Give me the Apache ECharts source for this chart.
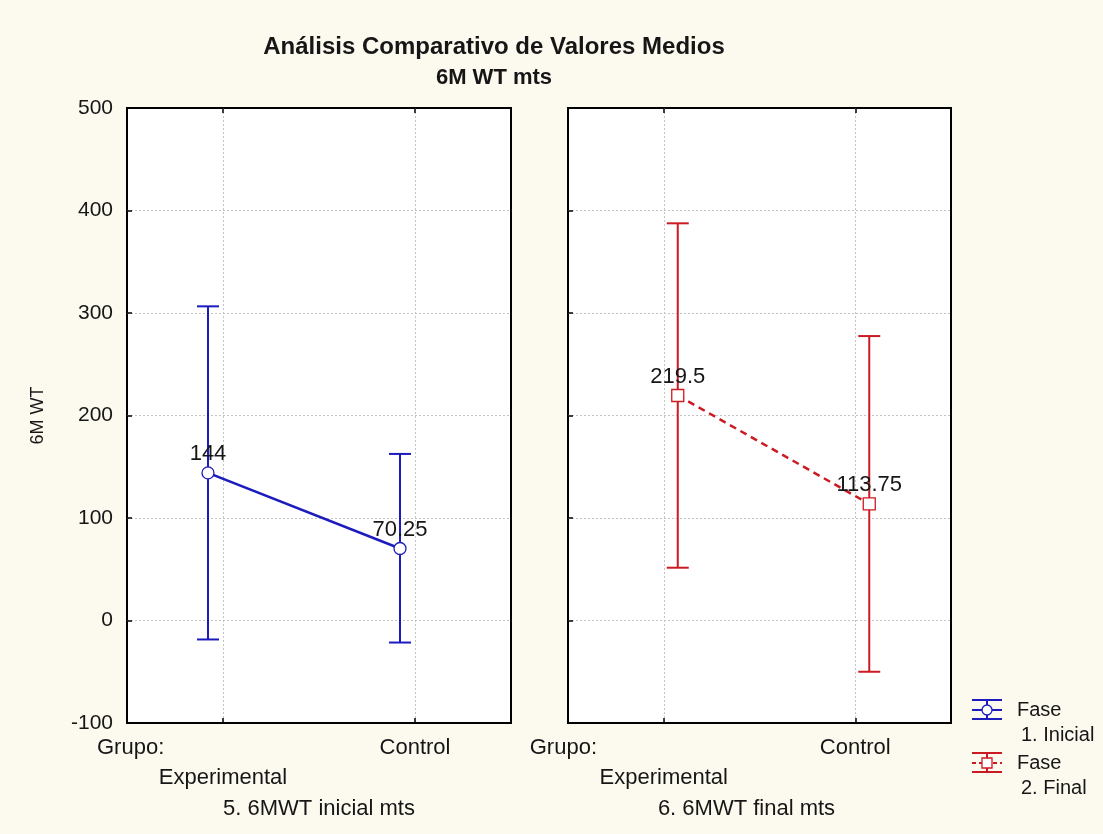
<!DOCTYPE html>
<html>
<head>
<meta charset="utf-8">
<script src="https://cdn.jsdelivr.net/npm/echarts@6/dist/echarts.min.js"></script>
<style>
  html, body { margin: 0; padding: 0; background: #fcf9ef; }
  #chart { width: 1103px; height: 834px; }
</style>
</head>
<body>
<div id="chart"></div>
<script>
// Groups on the horizontal axis of each panel
const groups = ['Experimental', 'Control'];

// Phase 1 (initial test): group means and confidence limits, metres
const inicialMean = [144, 70.25];
const inicialLow = [-18.5, -21.5];
const inicialHigh = [306.5, 162.5];

// Phase 2 (final test): group means and confidence limits, metres
const finalMean = [219.5, 113.75];
const finalLow = [51.5, -50];
const finalHigh = [387.5, 277.5];

// Texts
const chartTitle = 'Análisis Comparativo de Valores Medios';
const chartSubtitle = '6M WT mts';
const yAxisTitle = '6M WT';
const panelTitles = ['5. 6MWT inicial mts', '6. 6MWT final mts'];
const groupPrefix = 'Grupo:';
const legendItems = [['Fase', '1. Inicial'], ['Fase', '2. Final']];

// Y scale
const yMin = -100, yMax = 500, yStep = 100;

const FONT = '"Liberation Sans", Arial, sans-serif';
const TEXT = '#161616';
const BLUE = '#1c1cbe';
const RED = '#cc1a22';

// One custom series per phase: whisker, mean marker, value label and the
// segment joining consecutive group means. dx dodges the two phases sideways.
function phaseSeries(axisIdx, means, lows, highs, look) {
  return {
    type: 'custom',
    xAxisIndex: axisIdx * 2,
    yAxisIndex: axisIdx,
    clip: false,
    data: groups.map((g, i) => [i, means[i], lows[i], highs[i]]),
    encode: { x: 0, y: [1, 2, 3] },
    renderItem(params, api) {
      const i = params.dataIndex;
      const p = api.coord([i, api.value(1)]);
      const lo = api.coord([i, api.value(2)]);
      const hi = api.coord([i, api.value(3)]);
      const x = p[0] + look.dx;
      const cap = 11;
      const bar = { stroke: look.color, lineWidth: 2 };
      const children = [
        { type: 'line', z2: 1, shape: { x1: x, y1: hi[1], x2: x, y2: lo[1] }, style: bar },
        { type: 'line', z2: 1, shape: { x1: x - cap, y1: hi[1], x2: x + cap, y2: hi[1] }, style: bar },
        { type: 'line', z2: 1, shape: { x1: x - cap, y1: lo[1], x2: x + cap, y2: lo[1] }, style: bar }
      ];
      if (i < means.length - 1) {
        const q = api.coord([i + 1, means[i + 1]]);
        children.push({
          type: 'line', z2: 2,
          shape: { x1: x, y1: p[1], x2: q[0] + look.dx, y2: q[1] },
          style: { stroke: look.color, lineWidth: 2.5, lineDash: look.dash }
        });
      }
      const mk = { fill: '#ffffff', stroke: look.color, lineWidth: 1.3 };
      children.push(look.symbol === 'circle'
        ? { type: 'circle', z2: 3, shape: { cx: x, cy: p[1], r: 6 }, style: mk }
        : { type: 'rect', z2: 3, shape: { x: x - 6, y: p[1] - 6, width: 12, height: 12 }, style: mk });
      children.push({
        type: 'text', z2: 4, x: x, y: p[1] - 8,
        style: {
          text: String(means[i]), fill: TEXT, fontSize: 22, fontFamily: FONT,
          align: 'center', verticalAlign: 'bottom'
        }
      });
      return { type: 'group', children };
    }
  };
}

const panelGrids = [
  { left: 127, top: 108, width: 384, height: 615 },
  { left: 568, top: 108, width: 383, height: 615 }
];
// Width of the first label box, so that the group prefix starts left of the frame
const prefixBoxWidth = [252, 268];

const gridLineStyle = { color: '#c4c4c4', type: [2, 2], width: 1 };
const innerTick = { show: true, inside: true, alignWithLabel: true, length: 5, lineStyle: { color: '#000', width: 1.5 } };

const xAxes = [];
const yAxes = [];
panelGrids.forEach((g, k) => {
  xAxes.push({
    type: 'category', gridIndex: k, data: groups, position: 'bottom',
    boundaryGap: true,
    axisLine: { show: false, onZero: false },
    axisTick: innerTick,
    splitLine: { show: true, alignWithLabel: true, lineStyle: gridLineStyle },
    axisLabel: {
      interval: 0, margin: 10, verticalAlign: 'top', color: TEXT,
      fontSize: 22, fontFamily: FONT, lineHeight: 30,
      formatter: (v, i) => i === 0 ? '{g|' + groupPrefix + '}\n{v|' + v + '}' : '{v|' + v + '}',
      rich: {
        g: { width: prefixBoxWidth[k], align: 'left', fontSize: 22, fontFamily: FONT, color: TEXT, lineHeight: 30 },
        v: { fontSize: 22, fontFamily: FONT, color: TEXT, lineHeight: 30 }
      }
    },
    name: panelTitles[k], nameLocation: 'middle', nameGap: 66,
    nameTextStyle: { fontSize: 22, fontFamily: FONT, color: TEXT, padding: k === 1 ? [0, 26, 0, 0] : 0 }
  });
  xAxes.push({
    type: 'category', gridIndex: k, data: groups, position: 'top',
    boundaryGap: true,
    axisLine: { show: false, onZero: false },
    axisTick: innerTick,
    axisLabel: { show: false },
    splitLine: { show: false }
  });
  yAxes.push({
    type: 'value', gridIndex: k, min: yMin, max: yMax, interval: yStep,
    axisLine: { show: false, onZero: false },
    axisTick: { show: true, inside: true, length: 5, lineStyle: { color: '#000', width: 1.5 } },
    splitLine: { show: true, showMinLine: false, showMaxLine: false, lineStyle: gridLineStyle },
    axisLabel: { show: k === 0, margin: 14, color: TEXT, fontSize: 21, fontFamily: FONT },
    name: k === 0 ? yAxisTitle : '', nameLocation: 'middle', nameGap: 80,
    nameTextStyle: { fontSize: 18, fontFamily: FONT, color: TEXT }
  });
});

// Legend drawn as mini whisker symbols with their labels
function legendEntry(top, color, symbol, dashed, lines) {
  const x0 = 972, x1 = 1002, xc = 987;
  const s = { stroke: color, lineWidth: 2 };
  const mid = top + 10;
  return {
    type: 'group',
    children: [
      { type: 'line', shape: { x1: x0, y1: top, x2: x1, y2: top }, style: s },
      { type: 'line', shape: { x1: x0, y1: top + 19, x2: x1, y2: top + 19 }, style: s },
      { type: 'line', shape: { x1: xc, y1: top, x2: xc, y2: top + 19 }, style: s },
      { type: 'line', shape: { x1: x0, y1: mid, x2: x1, y2: mid }, style: { stroke: color, lineWidth: 2, lineDash: dashed ? [4, 3] : null } },
      symbol === 'circle'
        ? { type: 'circle', shape: { cx: xc, cy: mid, r: 5 }, style: { fill: '#fff', stroke: color, lineWidth: 1.3 } }
        : { type: 'rect', shape: { x: xc - 5, y: mid - 5, width: 10, height: 10 }, style: { fill: '#fff', stroke: color, lineWidth: 1.3 } },
      { type: 'text', x: 1017, y: mid, style: { text: lines[0], fill: TEXT, fontSize: 20, fontFamily: FONT, verticalAlign: 'middle' } },
      { type: 'text', x: 1021, y: mid + 25, style: { text: lines[1], fill: TEXT, fontSize: 20, fontFamily: FONT, verticalAlign: 'middle' } }
    ]
  };
}

const chart = echarts.init(document.getElementById('chart'), null, { renderer: 'canvas' });
chart.setOption({
  backgroundColor: '#fcf9ef',
  animation: false,
  title: [
    { text: chartTitle, left: 489, top: 30, textAlign: 'center',
      textStyle: { fontSize: 24, fontWeight: 'bold', fontFamily: FONT, color: TEXT } },
    { text: chartSubtitle, left: 489, top: 62, textAlign: 'center',
      textStyle: { fontSize: 22, fontWeight: 'bold', fontFamily: FONT, color: TEXT } }
  ],
  grid: panelGrids.map(g => Object.assign({
    show: true, backgroundColor: '#ffffff', borderColor: '#000000', borderWidth: 2, containLabel: false
  }, g)),
  xAxis: xAxes,
  yAxis: yAxes,
  series: [
    phaseSeries(0, inicialMean, inicialLow, inicialHigh, { color: BLUE, symbol: 'circle', dx: -15, dash: null }),
    phaseSeries(1, finalMean, finalLow, finalHigh, { color: RED, symbol: 'rect', dx: 14, dash: [7, 5] })
  ],
  graphic: [
    legendEntry(700, BLUE, 'circle', false, legendItems[0]),
    legendEntry(753, RED, 'rect', true, legendItems[1])
  ]
});
</script>
</body>
</html>
